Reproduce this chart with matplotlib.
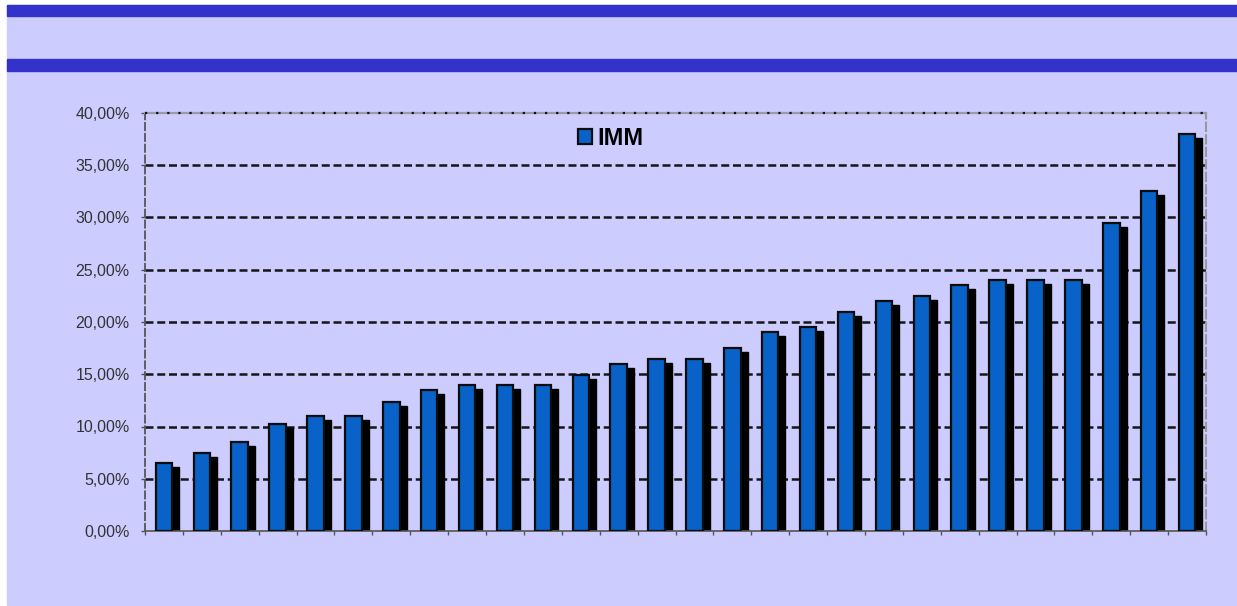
import matplotlib
matplotlib.use("Agg")
import matplotlib.pyplot as plt
from matplotlib.patches import Rectangle
from matplotlib.ticker import FuncFormatter, FixedLocator
import numpy as np

series_name = "IMM"
values = [6.5, 7.5, 8.5, 10.2, 11.0, 11.0, 12.3, 13.5, 14.0, 14.0, 14.0, 14.9,
          16.0, 16.5, 16.5, 17.5, 19.0, 19.5, 21.0, 22.0, 22.5, 23.5, 24.0, 24.0,
          24.0, 29.5, 32.5, 38.0]
y_ticks = [0, 5, 10, 15, 20, 25, 30, 35, 40]

W, H = 1237, 606
fig = plt.figure(figsize=(W / 100, H / 100), dpi=100, facecolor="white")
plt.rcParams['font.family'] = ['Liberation Sans', 'DejaVu Sans']

# background panel and header bars
fig.patches.append(Rectangle((7 / W, 1 - 605 / H), 1 - 7 / W, 600 / H,
                             transform=fig.transFigure, color="#CCCCFF", zorder=-10))
fig.patches.append(Rectangle((7 / W, 1 - 16 / H), 1 - 7 / W, 11 / H,
                             transform=fig.transFigure, color="#3333CC", zorder=-9))
fig.patches.append(Rectangle((7 / W, 1 - 71 / H), 1 - 7 / W, 12 / H,
                             transform=fig.transFigure, color="#3333CC", zorder=-9))

left, right, top, bottom = 145, 1206, 113, 531
ax = fig.add_axes([left / W, 1 - bottom / H, (right - left) / W, (bottom - top) / H])
ax.set_facecolor("none")
ax.set_zorder(5)

n = len(values)
x = np.arange(n)
cat_px = (right - left) / n
bw = 16.5 / cat_px
dx = 7 / cat_px
dy = 4 * 40 / (bottom - top)

vals = np.array(values)
ax.bar(x + dx, vals - dy, width=bw, color="black", edgecolor="black", linewidth=1.0, zorder=2)
ax.bar(x, vals, width=bw, color="#0862C8", edgecolor="#0d0d0d", linewidth=1.6, zorder=3,
       label=series_name)

ax.set_xlim(-0.5, n - 0.5)
ax.set_ylim(0, 40)
ax.yaxis.set_major_locator(FixedLocator(y_ticks))
ax.yaxis.set_major_formatter(FuncFormatter(lambda v, p: f"{v:.2f}%".replace(".", ",")))
for t in y_ticks[1:-1]:
    ax.axhline(t, color="#151515", linestyle=(0, (3.2, 1.5)), linewidth=1.8, zorder=1)

ax.set_xticks(np.arange(-0.5, n, 1))
ax.set_xticklabels([])
ax.tick_params(axis="x", direction="out", length=3, color="#555555", width=1)
ax.tick_params(axis="y", direction="out", length=3, color="#555555", width=1,
               labelsize=11.5, labelcolor="#333333", pad=8)

ax.spines["left"].set_linestyle((0, (4, 2)))
ax.spines["left"].set_color("#555555")
ax.spines["left"].set_linewidth(1.3)
ax.spines["right"].set_linestyle((0, (4, 2)))
ax.spines["right"].set_color("#999999")
ax.spines["right"].set_linewidth(1.5)
ax.spines["top"].set_color("#9a9aa8")
ax.spines["top"].set_linewidth(1.6)
ax.axhline(40, color="#111111", linestyle=(0, (1, 4)), linewidth=1.6, zorder=4, clip_on=False)
ax.spines["bottom"].set_color("#555555")
ax.spines["bottom"].set_linewidth(1.2)

leg = ax.legend(loc="upper left", bbox_to_anchor=((561 - left) / (right - left), 1 + 3 / (bottom - top)),
                frameon=False, prop={"weight": "bold", "size": 17},
                handlelength=0.6, handleheight=0.6, handletextpad=0.25, borderpad=0.2)

fig.savefig("out.png", dpi=100, facecolor="white")
